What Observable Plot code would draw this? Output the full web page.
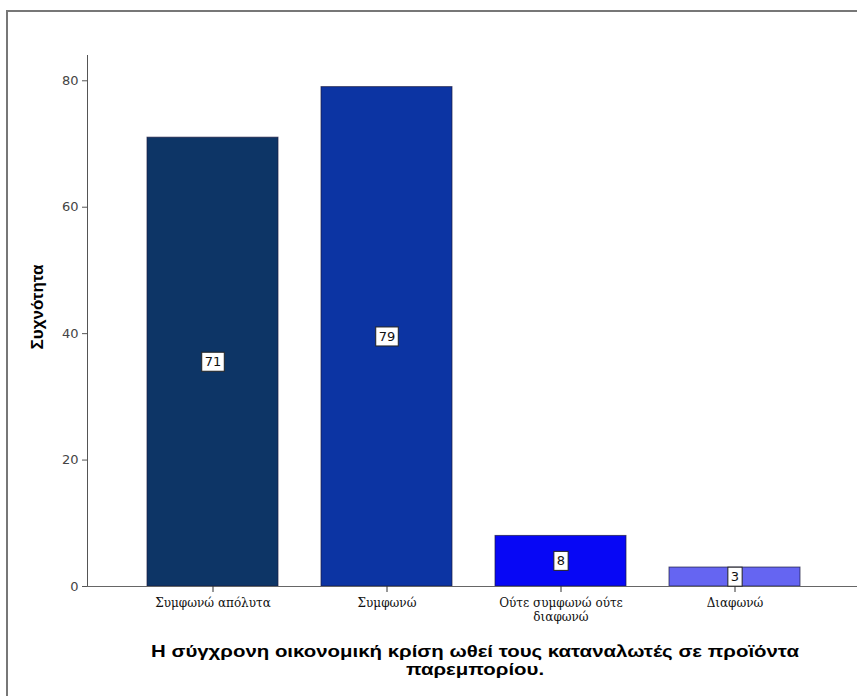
<!DOCTYPE html>
<html>
<head>
<meta charset="utf-8">
<script src="https://cdn.jsdelivr.net/npm/d3@7"></script>
<script src="https://cdn.jsdelivr.net/npm/@observablehq/plot@0.6"></script>
<style>
  html, body { margin: 0; padding: 0; background: #fff; }
  #wrap { position: relative; width: 857px; height: 696px; overflow: hidden; }
  #border { position: absolute; left: 6px; top: 10px; width: 900px; height: 800px;
            border-left: 2px solid #777; border-top: 2px solid #777; box-sizing: border-box; }
  #chart { position: absolute; left: 0; top: 0; }
  #ylabel { position: absolute; left: 38px; top: 307px; transform: translate(-50%, -50%) rotate(-90deg);
            font: bold 17px "Liberation Sans", Arial, sans-serif; white-space: nowrap; color: #000; }
  #xlabel { position: absolute; left: 125px; width: 700px; top: 643px; text-align: center;
            font: bold 17px "Liberation Sans", Arial, sans-serif; line-height: 18px; color: #000;
            transform: scaleX(1.2); transform-origin: 350px 0; white-space: nowrap; }
</style>
</head>
<body>
<div id="wrap">
  <div id="border"></div>
  <div id="chart"></div>
  <div id="ylabel">Συχνότητα</div>
  <div id="xlabel">Η σύγχρονη οικονομική κρίση ωθεί τους καταναλωτές σε προϊόντα<br>παρεμπορίου.</div>
</div>
<script>
const categories = ["Συμφωνώ απόλυτα", "Συμφωνώ", "Ούτε συμφωνώ ούτε διαφωνώ", "Διαφωνώ"];
const tickLabels = ["Συμφωνώ απόλυτα", "Συμφωνώ", "Ούτε συμφωνώ ούτε\nδιαφωνώ", "Διαφωνώ"];
const counts = [71, 79, 8, 3];
const yTicks = [0, 20, 40, 60, 80];

const data = categories.map((c, i) => ({cat: c, count: counts[i]}));

const chart = Plot.plot({
  width: 857,
  height: 630,
  marginLeft: 87,
  marginRight: 0,
  marginTop: 55,
  marginBottom: 44,
  style: {fontFamily: "DejaVu Sans, sans-serif", fontSize: "13px", background: "transparent", color: "#222"},
  x: {domain: categories, range: [125.5, 821.5], paddingInner: 0.247, paddingOuter: 0.1235},
  y: {domain: [0, 84]},
  color: {domain: categories, range: ["#0d3566", "#0c34a3", "#0707f5", "#6565f2"]},
  marks: [
    Plot.barY(data, {x: "cat", y: "count", fill: "cat", stroke: "#1a1a40", strokeOpacity: 0.7, strokeWidth: 1}),
    Plot.frame({anchor: "left", stroke: "#555"}),
    Plot.ruleY([0], {stroke: "#666"}),
    Plot.axisY({ticks: yTicks, tickSize: 5, tickPadding: 4, label: null, stroke: "#555", fill: "#444", fontSize: 13}),
    Plot.axisX({tickSize: 6, tickPadding: 5, label: null, stroke: "#333", fill: "#111",
      fontFamily: "DejaVu Serif, serif", fontSize: 12, lineHeight: 1.15,
      tickFormat: d => tickLabels[categories.indexOf(d)]}),
    Plot.text(data, {x: "cat", y: d => d.count / 2, text: d => String(d.count),
      fontSize: 13, fill: "#111", className: "barlabel"})
  ]
});
document.getElementById("chart").appendChild(chart);

// white boxes behind bar value labels
d3.select(chart).selectAll("g.barlabel text").each(function() {
  const bb = this.getBBox();
  const padX = 3, padY = 2;
  d3.select(this.parentNode).insert("rect", () => this)
    .attr("x", bb.x - padX).attr("y", bb.y - padY)
    .attr("width", bb.width + 2 * padX).attr("height", bb.height + 2 * padY)
    .attr("fill", "#fff").attr("stroke", "#222").attr("stroke-width", 1)
    .attr("transform", this.getAttribute("transform"));
});
</script>
</body>
</html>
